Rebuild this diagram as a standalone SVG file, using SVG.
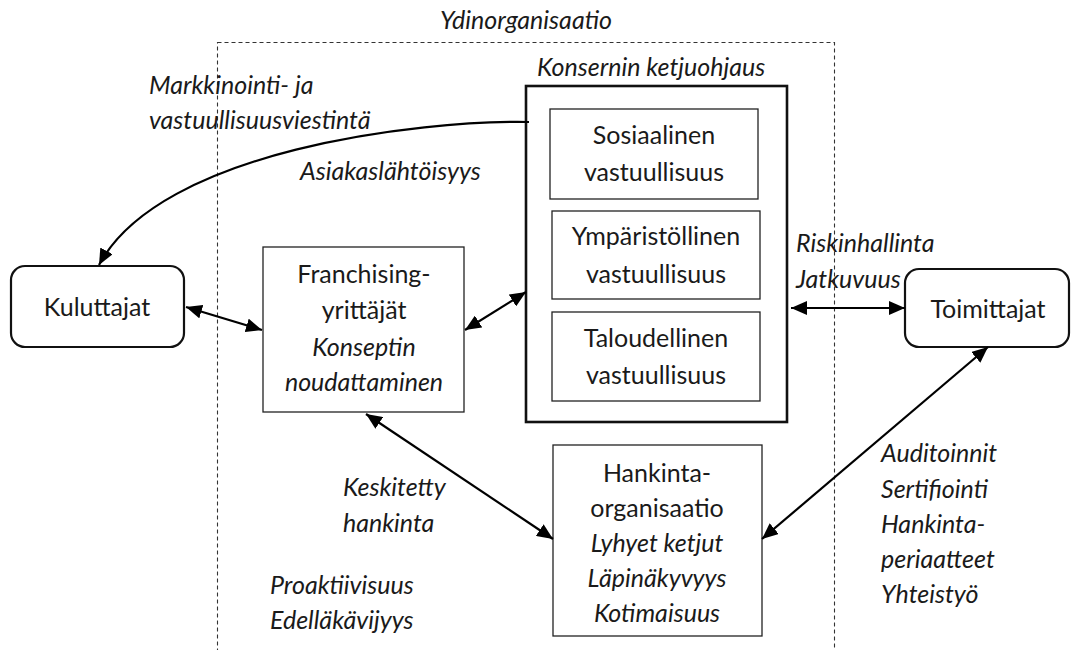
<svg xmlns="http://www.w3.org/2000/svg" width="1072" height="650" viewBox="0 0 1072 650">
<style>
text{font-family:Lato,"Liberation Sans",sans-serif;font-size:25px;fill:#1a1a1a}
.it{font-style:italic}
.c{text-anchor:middle}
.box{fill:#fff;stroke:#222;stroke-width:1.3}
.thick{fill:#fff;stroke:#111;stroke-width:2.6}
.rnd{fill:#fff;stroke:#111;stroke-width:2.2}
.con{fill:none;stroke:#000;stroke-width:2.2}
.dash{fill:none;stroke:#333;stroke-width:1.1;stroke-dasharray:4 3}
</style>
<defs>
<marker id="ah" markerUnits="userSpaceOnUse" markerWidth="18" markerHeight="14" refX="16" refY="7" orient="auto-start-reverse" viewBox="0 0 18 14">
<path d="M0,0 L16,7 L0,14 z" fill="#000"/>
</marker>
</defs>
<g id="ydinorganisaatio">
<rect class="dash" x="217.5" y="42.5" width="617" height="640"/>
<text class="it c" x="526" y="29">Ydinorganisaatio</text>
</g>
<g id="konserni">
<rect class="thick" x="526" y="86" width="261" height="336"/>
<text class="it" x="537" y="76">Konsernin ketjuohjaus</text>
</g>
<g id="sosiaalinen">
<rect class="box" x="550" y="109" width="208" height="90"/>
<text class="c" x="654" y="144">Sosiaalinen</text>
<text class="c" x="654" y="181">vastuullisuus</text>
</g>
<g id="ymparistollinen">
<rect class="box" x="552" y="211" width="208" height="88"/>
<text class="c" x="656" y="245">Ympäristöllinen</text>
<text class="c" x="656" y="283">vastuullisuus</text>
</g>
<g id="taloudellinen">
<rect class="box" x="552" y="312" width="208" height="89"/>
<text class="c" x="656" y="347">Taloudellinen</text>
<text class="c" x="656" y="384">vastuullisuus</text>
</g>
<g id="kuluttajat">
<rect class="rnd" x="11" y="266" width="173" height="81" rx="14"/>
<text class="c" x="97" y="316">Kuluttajat</text>
</g>
<g id="toimittajat">
<rect class="rnd" x="905" y="269" width="164" height="78" rx="14"/>
<text class="c" x="988" y="318">Toimittajat</text>
</g>
<g id="franchising">
<rect class="box" x="263" y="247" width="201" height="165"/>
<text class="c" x="364" y="283">Franchising-</text>
<text class="c" x="364" y="319">yrittäjät</text>
<text class="c it" x="364" y="356">Konseptin</text>
<text class="c it" x="364" y="391">noudattaminen</text>
</g>
<g id="hankinta">
<rect class="box" x="553" y="445" width="209" height="191"/>
<text class="c" x="657" y="482">Hankinta-</text>
<text class="c" x="657" y="517">organisaatio</text>
<text class="c it" x="657" y="552">Lyhyet ketjut</text>
<text class="c it" x="657" y="587">Läpinäkyvyys</text>
<text class="c it" x="657" y="622">Kotimaisuus</text>
</g>
<g id="labels">
<text class="it" x="149" y="94">Markkinointi- ja</text>
<text class="it" x="149" y="129">vastuullisuusviestintä</text>
<text class="it" x="300" y="180">Asiakaslähtöisyys</text>
<text class="it" x="796" y="252">Riskinhallinta</text>
<text class="it" x="796" y="288">Jatkuvuus</text>
<text class="it" x="343" y="496">Keskitetty</text>
<text class="it" x="343" y="532">hankinta</text>
<text class="it" x="270" y="594">Proaktiivisuus</text>
<text class="it" x="270" y="629">Edelläkävijyys</text>
<text class="it" x="881" y="462">Auditoinnit</text>
<text class="it" x="881" y="498">Sertifiointi</text>
<text class="it" x="881" y="533">Hankinta-</text>
<text class="it" x="881" y="568">periaatteet</text>
<text class="it" x="881" y="603">Yhteistyö</text>
</g>
<g id="connectors">
<path class="con" d="M529,122 C420,120 160,150 99,265" marker-end="url(#ah)"/>
<line class="con" x1="186" y1="307" x2="262" y2="330" marker-start="url(#ah)" marker-end="url(#ah)"/>
<line class="con" x1="465" y1="330" x2="526" y2="292" marker-start="url(#ah)" marker-end="url(#ah)"/>
<line class="con" x1="791" y1="308" x2="905" y2="308" marker-start="url(#ah)" marker-end="url(#ah)"/>
<line class="con" x1="366" y1="414" x2="553" y2="539" marker-start="url(#ah)" marker-end="url(#ah)"/>
<line class="con" x1="988" y1="347" x2="762" y2="539" marker-start="url(#ah)" marker-end="url(#ah)"/>
</g>
</svg>
